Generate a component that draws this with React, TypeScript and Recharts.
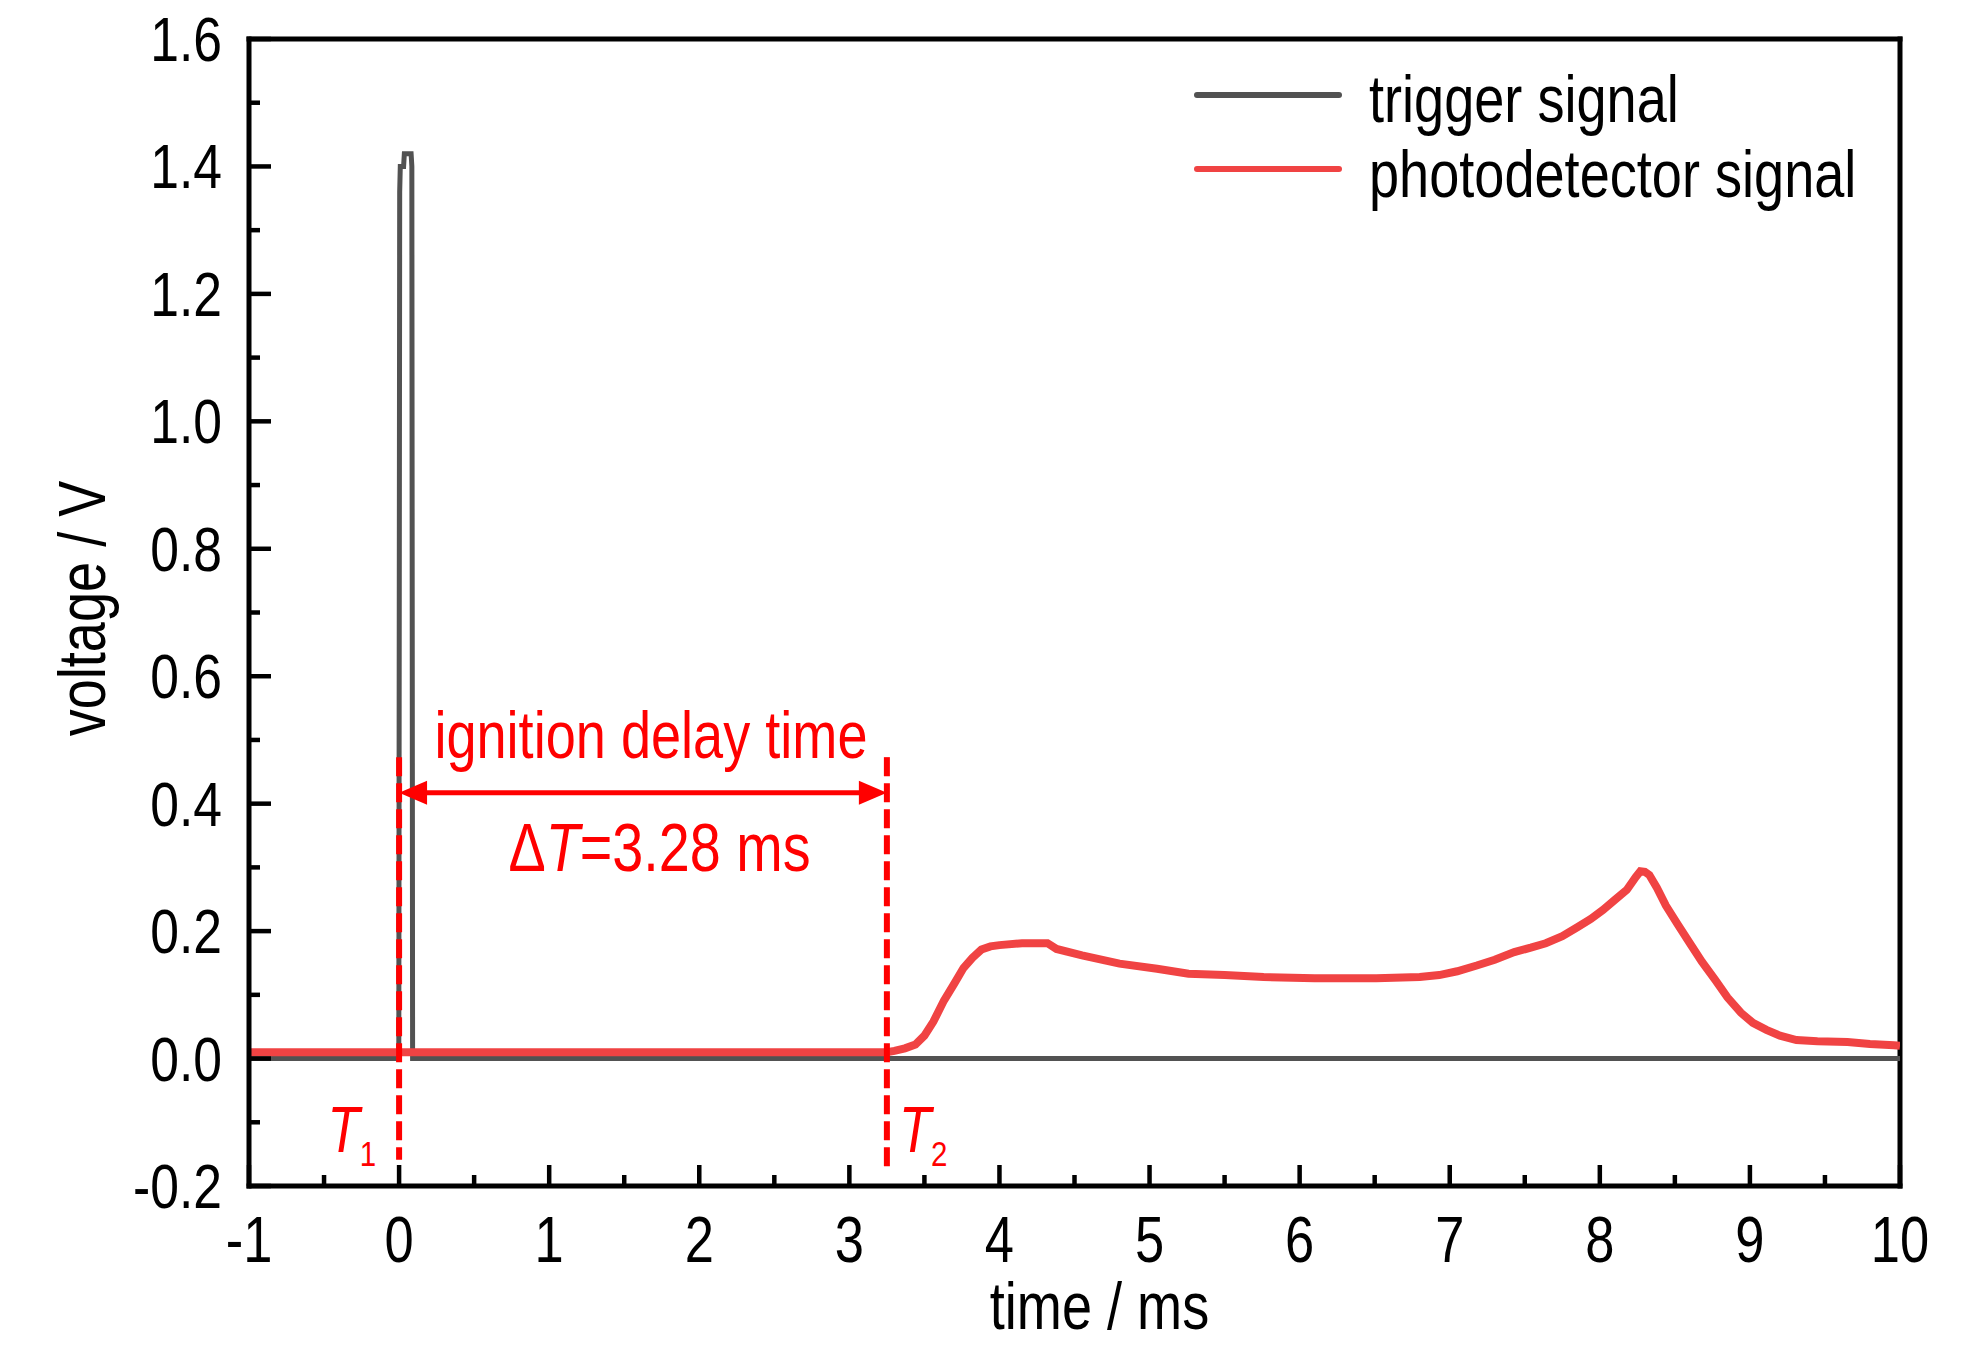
import React from "react";
import { LineChart, Line, XAxis, YAxis, ReferenceLine, ReferenceDot, Legend } from "recharts";

const FONT = '"Liberation Sans", Arial, sans-serif';
const SQUEEZE = 0.82; // the figure uses a condensed Arial-like face
const RED = "#ff0000";
const TRIGGER_COLOR = "#525252";
const PHOTO_COLOR = "#f04343";

const seriesOrder = ["trigger signal", "photodetector signal"];

// trigger signal (ms, V)
const triggerTime = [-1, -0.002, 0.004, 0.008, 0.03, 0.035, 0.08, 0.085, 0.09, 10];
const triggerVolt = [0, 0, 1.36, 1.4, 1.4, 1.42, 1.42, 1.4, 0, 0];

// photodetector signal (ms, V)
const photoTime = [
  -1, 3.25, 3.3, 3.37, 3.44, 3.5, 3.56, 3.63, 3.7, 3.76, 3.82, 3.88, 3.94, 4.0, 4.15, 4.32, 4.38,
  4.55, 4.8, 5.05, 5.26, 5.5, 5.76, 6.1, 6.51, 6.8, 6.93, 7.05, 7.18, 7.3, 7.43, 7.54, 7.64, 7.75,
  7.85, 7.94, 8.02, 8.1, 8.18, 8.24, 8.27, 8.3, 8.33, 8.38, 8.44, 8.52, 8.6, 8.68, 8.77, 8.85,
  8.94, 9.02, 9.11, 9.2, 9.31, 9.45, 9.65, 9.8, 9.96, 10,
];
const photoVolt = [
  0.01, 0.01, 0.012, 0.016, 0.022, 0.036, 0.058, 0.091, 0.118, 0.142, 0.158, 0.171, 0.176, 0.178,
  0.181, 0.181, 0.172, 0.162, 0.149, 0.141, 0.133, 0.131, 0.128, 0.126, 0.126, 0.128, 0.131, 0.137,
  0.146, 0.155, 0.167, 0.174, 0.181, 0.192, 0.206, 0.219, 0.233, 0.249, 0.265, 0.285, 0.294, 0.293,
  0.288, 0.268, 0.24, 0.21, 0.181, 0.152, 0.123, 0.096, 0.072, 0.056, 0.045, 0.036, 0.029, 0.027,
  0.026, 0.023, 0.021, 0.02,
];

const xTicks = [
  -1, -0.5, 0, 0.5, 1, 1.5, 2, 2.5, 3, 3.5, 4, 4.5, 5, 5.5, 6, 6.5, 7, 7.5, 8, 8.5, 9, 9.5, 10,
];
const yTicks = [
  -0.2, -0.1, 0, 0.1, 0.2, 0.3, 0.4, 0.5, 0.6, 0.7, 0.8, 0.9, 1.0, 1.1, 1.2, 1.3, 1.4, 1.5, 1.6,
];

// ignition delay annotation (data units)
const delayStart = 0;
const delayEnd = 3.25;
const arrowLevel = 0.417;
const markTop = 0.473;
const markBottom1 = -0.159;
const markBottom2 = -0.179;
const labelLevelT = -0.147;

const triggerData = triggerTime.map((t, i) => ({ t, v: triggerVolt[i] }));
const photoData = photoTime.map((t, i) => ({ t, v: photoVolt[i] }));

// text drawn in a horizontally condensed form
const NText = ({ x, y, anchor = "start", size = 64, fill = "#000", rotate = 0, children }: any) => (
  <text
    transform={`translate(${x} ${y})${rotate ? ` rotate(${rotate})` : ""} scale(${SQUEEZE} 1)`}
    textAnchor={anchor}
    fontFamily={FONT}
    fontSize={size}
    fill={fill}
  >
    {children}
  </text>
);

const XTick = (props: any) => {
  const { x, y, payload } = props;
  const major = Number.isInteger(payload.value);
  return (
    <g>
      <line x1={x} y1={y} x2={x} y2={y - (major ? 21 : 11)} stroke="#000" strokeWidth={4.5} />
      {major && (
        <NText x={x} y={y + 76} anchor="middle" size={64}>
          {String(payload.value)}
        </NText>
      )}
    </g>
  );
};

const YTick = (props: any) => {
  const { x, y, payload } = props;
  const major = Math.round(payload.value * 10) % 2 === 0;
  return (
    <g>
      <line x1={x} y1={y} x2={x + (major ? 22 : 11)} y2={y} stroke="#000" strokeWidth={4.5} />
      {major && (
        <NText x={x - 27} y={y + 22} anchor="end" size={63}>
          {payload.value.toFixed(1)}
        </NText>
      )}
    </g>
  );
};

const XTitle = (props: any) => {
  const vb = props.viewBox;
  return (
    <NText x={vb.x + vb.width / 2 + 25} y={vb.y + 143} anchor="middle" size={66}>
      time / ms
    </NText>
  );
};

const YTitle = (props: any) => {
  const vb = props.viewBox;
  return (
    <NText x={vb.x + 105} y={vb.y + vb.height / 2 - 4} anchor="middle" size={66} rotate={-90}>
      voltage / V
    </NText>
  );
};

const ArrowShape = (p: any) => {
  const { x1, y1, x2, y2 } = p;
  const len = 28;
  const half = 12;
  return (
    <g>
      <line x1={x1 + len - 2} y1={y1} x2={x2 - len + 2} y2={y2} stroke={RED} strokeWidth={5} />
      <polygon points={`${x1},${y1} ${x1 + len},${y1 - half} ${x1 + len},${y1 + half}`} fill={RED} />
      <polygon points={`${x2},${y2} ${x2 - len},${y2 - half} ${x2 - len},${y2 + half}`} fill={RED} />
    </g>
  );
};

const AnnotTitle = (p: any) => (
  <NText x={p.cx} y={p.cy} anchor="middle" size={66} fill={RED}>
    ignition delay time
  </NText>
);

const AnnotDelta = (p: any) => (
  <NText x={p.cx} y={p.cy} anchor="middle" size={68} fill={RED}>
    <tspan>Δ</tspan>
    <tspan fontStyle="italic">T</tspan>
    <tspan>=3.28 ms</tspan>
  </NText>
);

const makeTLabel = (sub: string, side: "left" | "right") => (p: any) => (
  <NText x={side === "left" ? p.cx - 23 : p.cx + 12} y={p.cy} anchor={side === "left" ? "end" : "start"} size={64} fill={RED}>
    <tspan fontStyle="italic">T</tspan>
    <tspan fontSize={36} dy={14}>
      {sub}
    </tspan>
  </NText>
);

const renderLegend = (props: any) => {
  const items = [...(props.payload || [])].sort(
    (a: any, b: any) => seriesOrder.indexOf(a.value) - seriesOrder.indexOf(b.value)
  );
  return (
    <svg width={760} height={190}>
      {items.map((entry: any, i: number) => (
        <g key={entry.value}>
          <line x1={7} y1={55 + i * 74} x2={149} y2={55 + i * 74} stroke={entry.color} strokeWidth={6} strokeLinecap="round" />
          <NText x={179} y={82 + i * 75} size={66}>
            {entry.value}
          </NText>
        </g>
      ))}
    </svg>
  );
};

export default function App() {
  return (
    <div style={{ position: "absolute", left: 0, top: 0, width: 1984, height: 1346, background: "#fff" }}>
      <LineChart width={1984} height={1346} margin={{ top: 39, right: 84, left: 0, bottom: 0 }}>
        <XAxis
          type="number"
          dataKey="t"
          domain={[-1, 10]}
          ticks={xTicks}
          interval={0}
          allowDataOverflow
          height={160}
          tickSize={0}
          tickMargin={0}
          tickLine={false}
          axisLine={{ stroke: "#000", strokeWidth: 5, strokeLinecap: "square" }}
          tick={<XTick />}
          label={XTitle}
        />
        <YAxis
          type="number"
          dataKey="v"
          domain={[-0.2, 1.6]}
          ticks={yTicks}
          interval={0}
          allowDataOverflow
          width={249}
          tickSize={0}
          tickMargin={0}
          tickLine={false}
          axisLine={{ stroke: "#000", strokeWidth: 5, strokeLinecap: "square" }}
          tick={<YTick />}
          label={YTitle}
        />
        <ReferenceLine y={1.6} stroke="#000" strokeWidth={5} strokeLinecap="square" />
        <ReferenceLine x={10} stroke="#000" strokeWidth={5} strokeLinecap="square" />
        <Line
          data={triggerData}
          dataKey="v"
          name="trigger signal"
          type="linear"
          stroke={TRIGGER_COLOR}
          strokeWidth={5}
          dot={false}
          activeDot={false}
          isAnimationActive={false}
        />
        <Line
          data={photoData}
          dataKey="v"
          name="photodetector signal"
          type="linear"
          stroke={PHOTO_COLOR}
          strokeWidth={8}
          dot={false}
          activeDot={false}
          isAnimationActive={false}
        />
        <ReferenceLine
          segment={[{ x: delayStart, y: markTop }, { x: delayStart, y: markBottom1 }]}
          stroke={RED}
          strokeWidth={6}
          strokeDasharray="19 7"
        />
        <ReferenceLine
          segment={[{ x: delayEnd, y: markTop }, { x: delayEnd, y: markBottom2 }]}
          stroke={RED}
          strokeWidth={6}
          strokeDasharray="19 7"
        />
        <ReferenceLine
          segment={[{ x: delayStart, y: arrowLevel }, { x: delayEnd, y: arrowLevel }]}
          shape={ArrowShape}
        />
        <ReferenceDot x={1.678} y={0.472} r={0} shape={AnnotTitle} />
        <ReferenceDot x={1.735} y={0.294} r={0} shape={AnnotDelta} />
        <ReferenceDot x={delayStart} y={labelLevelT} r={0} shape={makeTLabel("1", "left")} />
        <ReferenceDot x={delayEnd} y={labelLevelT} r={0} shape={makeTLabel("2", "right")} />
        <Legend
          layout="vertical"
          align="center"
          verticalAlign="middle"
          content={renderLegend}
          wrapperStyle={{ left: 1190, top: 40, width: 760, height: 190 }}
        />
      </LineChart>
    </div>
  );
}
